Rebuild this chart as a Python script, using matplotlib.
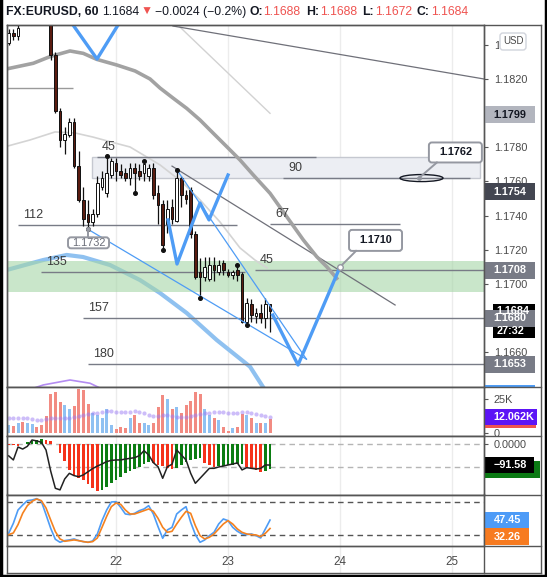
import numpy as np
import matplotlib
matplotlib.use("Agg")
import matplotlib.pyplot as plt
from matplotlib.patches import Rectangle, FancyBboxPatch, Ellipse

plt.rcParams["font.family"] = ["Liberation Sans", "DejaVu Sans"]

W, H = 547, 577

# hourly bars, hour 0 = midnight of the 22nd
hours = np.arange(-23, 34)
opens = [1.1841, 1.1847, 1.1845, 1.1858, 1.1856, 1.1862, 1.1866, 1.1864, 1.1862, 1.1860,
         1.1834, 1.1801, 1.1784, 1.1787, 1.1795, 1.1769, 1.1749, 1.1741, 1.1736, 1.1741,
         1.1757, 1.1753, 1.1764, 1.1771, 1.1766, 1.1765, 1.1762, 1.1768, 1.1766, 1.1765,
         1.1763, 1.1768, 1.1753, 1.1747, 1.1735, 1.1745, 1.1737, 1.1762, 1.1752, 1.1755,
         1.1729, 1.1707, 1.1704, 1.1703, 1.1711, 1.1707, 1.1712, 1.1707, 1.1705, 1.1708,
         1.1706, 1.1678, 1.1688, 1.1681, 1.1683, 1.1680, 1.1688]
highs = [1.1849, 1.1849, 1.1853, 1.1861, 1.1864, 1.1868, 1.1869, 1.1867, 1.1865, 1.1862,
         1.1836, 1.1803, 1.1792, 1.1797, 1.1797, 1.1778, 1.1757, 1.1749, 1.1744, 1.1763,
         1.1766, 1.1775, 1.1774, 1.1774, 1.1770, 1.1768, 1.1771, 1.1771, 1.1770, 1.1772,
         1.1770, 1.1771, 1.1758, 1.1749, 1.1749, 1.1750, 1.1767, 1.1763, 1.1755, 1.1757,
         1.1731, 1.1715, 1.1716, 1.1716, 1.1716, 1.1714, 1.1714, 1.1709, 1.1708, 1.1711,
         1.1707, 1.1692, 1.1691, 1.1686, 1.1688, 1.1692, 1.1688]
lows = [1.1840, 1.1843, 1.1843, 1.1854, 1.1855, 1.1860, 1.1862, 1.1860, 1.1857, 1.1831,
        1.1800, 1.1780, 1.1776, 1.1786, 1.1768, 1.1748, 1.1734, 1.1732, 1.1734, 1.1739,
        1.1755, 1.1751, 1.1762, 1.1760, 1.1762, 1.1760, 1.1758, 1.1753, 1.1761, 1.1760,
        1.1760, 1.1750, 1.1735, 1.1720, 1.1730, 1.1735, 1.1736, 1.1745, 1.1747, 1.1727,
        1.1703, 1.1692, 1.1702, 1.1702, 1.1702, 1.1705, 1.1705, 1.1704, 1.1703, 1.1702,
        1.1677, 1.1676, 1.1678, 1.1677, 1.1677, 1.1674, 1.1672]
closes = [1.1847, 1.1845, 1.1850, 1.1856, 1.1862, 1.1866, 1.1864, 1.1862, 1.1860, 1.1834,
          1.1801, 1.1784, 1.1788, 1.1795, 1.1769, 1.1749, 1.1738, 1.1736, 1.1741, 1.1759,
          1.1762, 1.1765, 1.1772, 1.1766, 1.1764, 1.1762, 1.1768, 1.1765, 1.1763, 1.1770,
          1.1768, 1.1752, 1.1746, 1.1723, 1.1744, 1.1738, 1.1762, 1.1752, 1.1750, 1.1729,
          1.1704, 1.1704, 1.1710, 1.1711, 1.1708, 1.1711, 1.1708, 1.1705, 1.1707, 1.1705,
          1.1678, 1.1689, 1.1682, 1.1683, 1.1680, 1.1688, 1.1684]

volume_k = [5.7, 4.9, 7.2, 7.9, 7.2, 6.4, 4.2, 5.7, 12.4, 28.7,
            30.2, 22.8, 20.5, 17.6, 19.8, 32.4, 31.7, 21.3, 14.6, 13.1,
            10.9, 17.6, 5.7, 2.7, 4.2, 3.5, 10.9, 13.1, 7.2, 7.2,
            5.7, 7.2, 19.0, 27.9, 25.0, 17.6, 19.0, 14.6, 20.5, 23.5,
            30.2, 28.7, 17.6, 13.1, 10.9, 9.4, 4.2, 1.2, 3.5, 4.2,
            13.8, 13.1, 10.9, 7.2, 7.2, 7.2, 10.1]
volume_ma_k = [11.4, 11.4, 11.4, 11.4, 11.4, 10.6, 9.9, 9.9, 10.1, 10.9,
               11.4, 11.4, 11.4, 11.4, 12.1, 12.9, 13.6, 14.3, 15.1, 15.1,
               15.8, 16.6, 16.6, 15.8, 15.8, 15.8, 15.8, 16.6, 15.8, 15.1,
               13.6, 12.9, 12.9, 13.6, 13.6, 12.9, 12.1, 12.1, 12.1, 12.9,
               13.6, 14.3, 15.1, 15.1, 15.8, 15.8, 15.8, 15.1, 15.1, 15.1,
               15.8, 15.8, 15.1, 14.3, 13.6, 12.9, 12.062]

osc_hist = [-4, -5, -6, 3, 8, 14, 18, 22, 20, 15, 3,
            -40, -74, -113, -135, -147, -157, -176, -191, -206,
            -201, -187, -172, -157, -143, -128, -118, -110, -101, -88, -76,
            -84, -91, -96, -103, -108,
            -104, -92, -80, -70, -64, -60,
            -84, -91, -99,
            -97, -95, -93, -91, -89, -88,
            -100, -106, -112, -120,
            -116, -111]
osc_line = [-51, -69, -12, -21, -9, 19, 15, 9, -25, -118,
            -194, -201, -153, -128, -138, -143, -135, -121, -107, -96,
            -87, -76, -71, -69, -69, -65, -62, -59, -50, -28,
            -47, -81, -99, -150, -99, -88, -25, -47, -69, -128,
            -172, -150, -128, -106, -106, -100, -96, -91, -87, -82,
            -113, -103, -106, -109, -106, -91, -91.58]

stoch_k = [23.6, 41.6, 65.6, 74.6, 82.4, 83.6, 86.0, 81.2, 57.2, 32.6,
           12.8, 7.4, 10.4, 11.6, 13.4, 10.4, 8.6, 7.4, 9.8, 22.4,
           46.4, 65.6, 80.0, 80.6, 70.4, 58.4, 57.2, 59.6, 64.4, 67.4,
           73.4, 58.4, 35.6, 14.6, 29.6, 34.4, 58.4, 65.6, 71.6, 43.4,
           21.2, 7.4, 11.6, 19.4, 25.4, 40.4, 49.4, 46.4, 34.4, 27.2,
           22.4, 21.2, 22.4, 19.4, 15.2, 31.4, 47.45]
stoch_d = [21.2, 24.2, 39.2, 59.6, 73.4, 81.2, 85.4, 82.4, 69.2, 47.6,
           26.6, 13.4, 9.2, 10.4, 11.6, 10.4, 8.6, 7.4, 8.6, 15.2,
           34.4, 54.2, 71.6, 78.2, 75.8, 65.6, 58.4, 58.4, 61.4, 64.4,
           67.4, 63.2, 50.6, 34.4, 25.4, 27.2, 40.4, 52.4, 63.2, 59.6,
           37.4, 19.4, 13.4, 16.4, 22.4, 31.4, 40.4, 46.4, 40.4, 31.4,
           25.4, 22.4, 21.2, 20.6, 17.6, 23.6, 32.26]

# overlays on the price pane, (hour, price)
slow_ma_h = [-23.42, -17.72, -14.14, -9.86, -7.01, -4.14, 0.15, 4.07, 7.29, 9.43, 12.28, 15.15,
             18.0, 20.85, 23.72, 26.57, 29.42, 33.0, 36.58, 40.13, 43.0, 45.15, 47.29]
slow_ma_p = [1.18259, 1.18292, 1.18331, 1.18364, 1.18350, 1.18315, 1.18282, 1.18247, 1.18200,
             1.18147, 1.18087, 1.18028, 1.17960, 1.17882, 1.17804, 1.17726, 1.17638, 1.17531,
             1.17394, 1.17258, 1.17160, 1.17101, 1.17033]
light_ma_h = [-23.14, -18.43, -13.07, -8.79, -4.93, -0.21, 3.0, 9.43, 14.14, 18.0, 22.28, 26.57, 29.78, 32.36]
light_ma_p = [1.17808, 1.17843, 1.17890, 1.17884, 1.17860, 1.17825, 1.17802, 1.17697, 1.17597,
              1.17492, 1.17363, 1.17211, 1.17140, 1.17094]
blue_ma_h = [-23.42, -15.64, -10.56, -7.07, -1.29, 5.14, 9.43, 15.15, 21.58, 28.71, 31.5, 34.07]
blue_ma_p = [1.17082, 1.17140, 1.17170, 1.17158, 1.17111, 1.17023, 1.16947, 1.16830, 1.16672,
             1.16516, 1.16397, 1.16292]
purple_h = [-18.86, -15.58, -9.86, -5.57, -3.43]
purple_p = [1.16379, 1.16409, 1.16438, 1.16419, 1.16391]

zigzags = [
    ([-10.6, -4.07, 1.65], [1.1857, 1.18317, 1.1857]),
    ([11.14, 13.07, 18.0, 19.93, 24.0], [1.17375, 1.17117, 1.17474, 1.17375, 1.17638]),
    ([33.6, 39.0, 48.0], [1.16818, 1.16526, 1.1710]),
]
channel_lines = [([-6.0, 40.8], [1.1732, 1.1656]), ([13.0, 40.8], [1.1767, 1.1656])]
dark_lines = [([12.2, 78.85], [1.1851, 1.1820]), ([12.0, 59.8], [1.1769, 1.16877])]
faint_lines = [([13.7, 33.0], [1.18504, 1.17999])]
top_level = (1.18147, -23.36, -9.2)

levels = [("45", 1.17743, -4.07, 42.8), ("90", 1.1762, 35.8, 75.9), ("67", 1.17351, 33.0, 60.9),
          ("112", 1.17345, -21.0, 25.9), ("135", 1.17070, -16.1, 27.6), ("45", 1.1708, 29.8, 78.85),
          ("157", 1.1680, -7.1, 78.85), ("180", 1.1653, -6.0, 78.85)]
box_zone = (-5.14, 78.0, 1.1762, 1.17743)
green_zone = (1.16955, 1.17135)
pivots = [(-6, "L"), (-2, "H"), (4, "L"), (6, "H"), (10, "L"), (13, "H"), (18, "L"), (26, "H"), (28, "L")]

price_tags = [(1.1799, "#b2b5be", "#131722"), (1.1754, "#434651", "white"),
              (1.1708, "#787b86", "white"), (1.1680, "#787b86", "white"),
              (1.1653, "#787b86", "white")]

day_hours = [0, 24, 48, 72]
day_labels = ["22", "23", "24", "25"]

# ---------------------------------------------------------------
fig = plt.figure(figsize=(W / 100, H / 100), dpi=100)
fig.patch.set_facecolor("white")

GRID = "#ececec"
FRAME = "#555555"
TXT = "#4a4a4a"


def pane(top, bottom):
    return fig.add_axes([7 / W, 1 - bottom / H, 477 / W, (bottom - top) / H])


ax = pane(25, 387)
axv = pane(387, 436)
axo = pane(436, 494.5)
axs = pane(494.5, 546)

for a in (ax, axv, axo, axs):
    a.set_xlim(-23.36, 78.85)
    a.set_xticks(day_hours)
    a.grid(axis="x", color=GRID, lw=1)
    a.set_axisbelow(True)
    for s in a.spines.values():
        s.set_color(FRAME)
        s.set_linewidth(1)
    a.yaxis.tick_right()
    a.tick_params(axis="x", length=0, labelbottom=False)
    a.tick_params(axis="y", length=3, width=0.8, color=FRAME, labelcolor=TXT, labelsize=7.8, pad=4)

# price pane
ax.set_ylim(1.16397, 1.18516)
pt = np.arange(1.1660, 1.18405, 0.002)
ax.set_yticks(pt)
ax.set_yticklabels([f"{t:.4f}" for t in pt])

ax.add_patch(Rectangle((box_zone[0], box_zone[2]), box_zone[1] - box_zone[0], box_zone[3] - box_zone[2],
                       fc="#eceef3", ec="#c5c8d0", lw=1, zorder=1))
ax.plot(blue_ma_h, blue_ma_p, color="#8fc1f0", lw=3, zorder=1.2, solid_capstyle="round")
ax.plot(purple_h, purple_p, color="#b48cf2", lw=1.2, zorder=1.2)
ax.axhspan(green_zone[0], green_zone[1], color="#a5d6a7", alpha=0.6, lw=0, zorder=1.5)
ax.plot(light_ma_h, light_ma_p, color="#d4d4d4", lw=1.2, zorder=2)
for xs, ys in faint_lines:
    ax.plot(xs, ys, color="#d2d2d2", lw=1, zorder=2)
for xs, ys in dark_lines:
    ax.plot(xs, ys, color="#6f7079", lw=0.9, zorder=2)
ax.hlines(top_level[0], top_level[1], top_level[2], color="#9a9a9a", lw=1, zorder=2)
for lab, p, h0, h1 in levels:
    ax.hlines(p, h0, h1, color="#787b86", lw=1, zorder=2)
    ax.annotate(lab, (h0, p), xytext=(5, 10), textcoords="offset pixels", fontsize=9,
                color="#3c3c3c", ha="left", va="center", zorder=6)
ax.plot(slow_ma_h, slow_ma_p, color="#a2a2a2", lw=2.6, zorder=2.5)

o, hi, lo, c = map(np.array, (opens, highs, lows, closes))
up = c >= o
ax.vlines(hours, lo, hi, color="#111111", lw=0.9, zorder=3)
ax.bar(hours, np.maximum(np.abs(c - o), 0.00004), bottom=np.minimum(o, c), width=0.62,
       color=np.where(up, "white", "#5a1c10"), edgecolor="#111111", linewidth=0.7, zorder=4)
for hh, kind in pivots:
    i = list(hours).index(hh)
    ax.plot(hh, hi[i] if kind == "H" else lo[i], "o", color="#111111", ms=2.6, zorder=5)

for xs, ys in channel_lines:
    ax.plot(xs, ys, color="#4e9cf5", lw=0.9, zorder=4.5)
for xs, ys in zigzags:
    ax.plot(xs, ys, color="#4e9cf5", lw=2.4, zorder=5)
ax.add_patch(Ellipse((65.46, 1.1762), 9.2, 0.00041, fill=False, ec="#131722", lw=1, zorder=6))

# volume pane
axv.set_ylim(-2.2, 34.1)
axv.set_yticks([0, 25])
axv.set_yticklabels(["0", "25K"])
axv.bar(hours, volume_k, width=0.64, color=np.where(up, "#8fc1f2", "#f28b82"), zorder=2)
axv.plot(hours, volume_ma_k, "o", ms=3, color="#9c7cf4", alpha=0.5, mec="none", zorder=3)

# oscillator pane
axo.set_ylim(-221.4, 36.6)
axo.set_yticks([0])
axo.set_yticklabels(["0.0000"])
hist = np.array(osc_hist, dtype=float)
rising = np.concatenate([[False], hist[1:] >= hist[:-1]])
axo.bar(hours, hist, width=0.55, color=np.where(rising, "#0b7d12", "#f5321a"), zorder=2)
for lvl in (0, -100):
    axo.axhline(lvl, color="#b5b5b5", lw=1, ls=(0, (4, 3)), zorder=1)
axo.plot(hours, osc_line, color="#222222", lw=1.1, zorder=3)

# stochastic pane
axs.set_ylim(0.7, 93.5)
axs.set_yticks([])
for lvl in (80, 20):
    axs.axhline(lvl, color="#555555", lw=1, ls=(0, (4, 3)), zorder=1)
axs.plot(hours, stoch_k, color="#4e9cf5", lw=1.2, zorder=3)
axs.plot(hours, stoch_d, color="#f5821f", lw=1.2, zorder=3)
axs.set_xticklabels(day_labels)
axs.tick_params(axis="x", labelbottom=True, length=0, pad=7, labelsize=8.4, labelcolor=TXT)
for hh in day_hours:
    axs.axvline(hh, ymin=-27 / 51.5, ymax=0, color=GRID, lw=1, clip_on=False, zorder=0)

# ---------------------------------------------------------------
ov = fig.add_axes([0, 0, 1, 1], zorder=10)
ov.set_xlim(0, W)
ov.set_ylim(H, 0)
ov.axis("off")


def ypix(a, v):
    return H - a.transData.transform((0, v))[1]


def xpix(a, v):
    return a.transData.transform((v, 0))[0]


def tag(yc, text, bg, fg="white", x1=535, hgt=17):
    ov.add_patch(Rectangle((485, yc - hgt / 2), x1 - 485, hgt, fc=bg, ec="none"))
    ov.text(493.5, yc, text, color=fg, fontsize=7.8, fontweight="bold", ha="left", va="center")


for yy in (25, 387, 436, 494.5, 546, 573):
    ov.plot([7, 541], [yy, yy], color=FRAME, lw=1)
for xx in (7, 484, 541):
    ov.plot([xx, xx], [25, 573], color=FRAME, lw=1)
ov.plot([1, 1], [0, H], color="black", lw=2.5, clip_on=False)
ov.plot([545.8, 545.8], [0, H], color="black", lw=2.5, clip_on=False)
ov.plot([0, W], [575.8, 575.8], color="black", lw=2.5, clip_on=False)

# the top tick label sits mostly under the currency box: keep only its visible part
for lbl in ax.get_yticklabels():
    if lbl.get_text() == "1.1840":
        lbl.set_clip_path(Rectangle((0, 0), 499, H, transform=ov.transData))

# price tags
for v, bg, fg in price_tags[:3]:
    tag(ypix(ax, v), f"{v:.4f}", bg, fg)
y_last = ypix(ax, closes[-1])
ov.add_patch(Rectangle((493, y_last - 7), 42, 34, fc="black", ec="none"))
hidden = ov.text(496, y_last, f"{closes[-1]:.4f}", color="white", fontsize=7.8,
                 fontweight="bold", va="center")
hidden.set_clip_path(Rectangle((485, y_last - 8), 55, 6, transform=ov.transData))
ov.text(497, y_last + 20, "27:32", color="white", fontsize=7.8, fontweight="bold", va="center")
for v, bg, fg in price_tags[3:]:
    tag(ypix(ax, v), f"{v:.4f}", bg, fg)
ov.add_patch(Rectangle((485, 384.5), 50, 2.5, fc="#4e9cf5", ec="none"))

ov.add_patch(FancyBboxPatch((500, 33), 26, 17, boxstyle="round,pad=0,rounding_size=3",
                            fc="white", ec="#d1d4dc", lw=1))
ov.text(513, 41.5, "USD", color=TXT, fontsize=7, ha="center", va="center")

tag(ypix(axv, volume_k[-1]), "", "#ef5350", x1=535.6)
tag(ypix(axv, volume_ma_k[-1]), "12.062K", "#5c14f6", x1=537, hgt=16)
tag(ypix(axo, osc_hist[-1]), "", "#0b7a14", x1=540)
tag(ypix(axo, osc_line[-1]), "\u221291.58", "black", x1=534, hgt=16)
yk = ypix(axs, stoch_k[-1])
tag(yk, f"{stoch_k[-1]:.2f}", "#4d9bf7", x1=528.6, hgt=16.5)
tag(max(ypix(axs, stoch_d[-1]), yk + 16.5), f"{stoch_d[-1]:.2f}", "#f77b20", x1=528.6, hgt=16.5)


def callout(a, hh, p, text, dx, dy, w, hgt, px, py, fg, bold, size, ring):
    x0, y0 = xpix(a, hh), ypix(a, p)
    bx, by = x0 + dx, y0 + dy
    ov.plot([bx + px, x0], [by + py, y0], color="#9598a1", lw=1.4)
    ov.add_patch(FancyBboxPatch((bx, by), w, hgt, boxstyle="round,pad=0,rounding_size=3",
                                fc="white", ec="#9598a1", lw=1.4))
    ov.text(bx + w / 2, by + hgt / 2, text, color=fg, fontsize=size,
            fontweight="bold" if bold else "normal", ha="center", va="center")
    if ring:
        ov.plot(x0, y0, "o", ms=4, mfc="white", mec="#9598a1", mew=1)
    else:
        ov.plot(x0, y0, "o", ms=2.5, color="#9598a1")


callout(ax, 64.9, 1.1762, "1.1762", 10, -35.6, 53, 20, 8, 20, "#131722", True, 7.8, False)
callout(ax, 48.0, 1.1710, "1.1710", 9, -37, 53, 21, 7, 21, "#131722", True, 7.8, True)
callout(ax, -6.0, 1.1732, "1.1732", -20, 8, 41, 11, 20, 0, "#6a6d78", False, 7.8, False)

# header
renderer = fig.canvas.get_renderer()
pieces = [("FX:EURUSD, 60", "#131722", "bold", 4), ("1.1684", "#131722", "normal", 1),
          ("\u25bc", "#ef5350", "normal", 2), ("\u22120.0024 (\u22120.2%)", "#131722", "normal", 3),
          ("O:", "#131722", "bold", 1), ("1.1688", "#ef5350", "normal", 5),
          ("H:", "#131722", "bold", 1), ("1.1688", "#ef5350", "normal", 5),
          ("L:", "#131722", "bold", 1), ("1.1672", "#ef5350", "normal", 5),
          ("C:", "#131722", "bold", 1), ("1.1684", "#ef5350", "normal", 5)]
xh = 6
for text, col, wt, gap in pieces:
    t = ov.text(xh, 12, text, color=col, fontweight=wt, fontsize=8.8, ha="left", va="center")
    xh += t.get_window_extent(renderer).width + gap

fig.savefig("out.png", dpi=100)
